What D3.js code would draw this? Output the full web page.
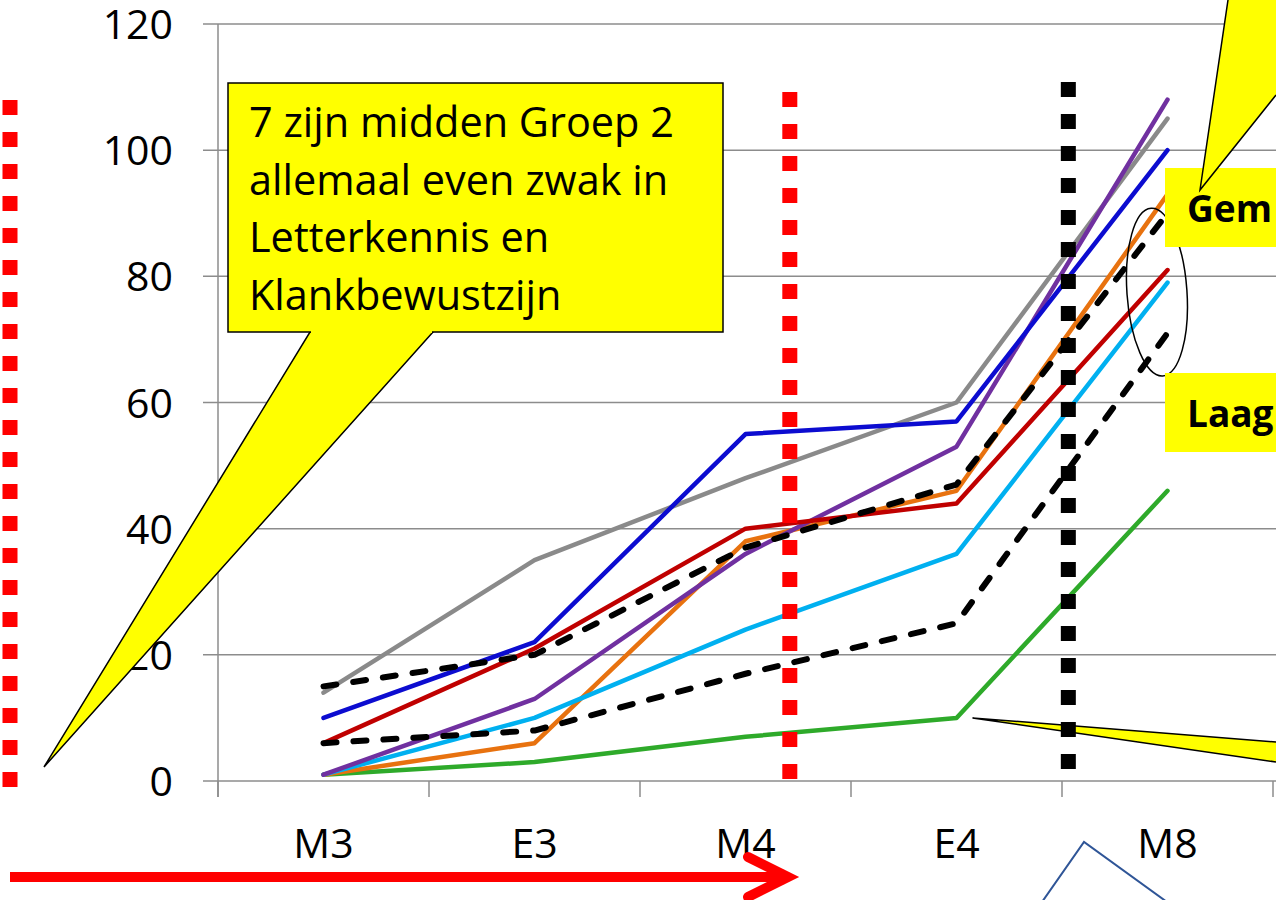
<!DOCTYPE html>
<html>
<head>
<meta charset="utf-8">
<script src="https://cdn.jsdelivr.net/npm/d3@7"></script>
<style>
  body { margin: 0; background: #fff; }
  svg { display: block; font-family: "Open Sans", "Liberation Sans", sans-serif; }
</style>
</head>
<body>
<svg id="chart"></svg>
<script>
// data
var categories = ["M3", "E3", "M4", "E4", "M8"];
var yTicks = [0, 20, 40, 60, 80, 100, 120];

var grijs      = [14, 35, 48, 60, 105];
var groen      = [1, 3, 7, 10, 46];
var oranje     = [1, 6, 38, 46, 93];
var lichtblauw = [1, 10, 24, 36, 79];
var paars      = [1, 13, 36, 53, 108];
var rood       = [6, 21, 40, 44, 81];
var blauw      = [10, 22, 55, 57, 100];
var gemiddeld  = [15, 20, 37, 47, 90];
var laag       = [6, 8, 17, 25, 71];

var calloutLines = ["7 zijn midden Groep 2", "allemaal even zwak in", "Letterkennis en", "Klankbewustzijn"];

var series = [
  {values: grijs, color: "#8a8a8a"},
  {values: groen, color: "#2eaa2a"},
  {values: oranje, color: "#e8720f"},
  {values: lichtblauw, color: "#00b0f0"},
  {values: paars, color: "#7030a0"},
  {values: rood, color: "#c00000"},
  {values: blauw, color: "#0c0cd0"},
  {values: gemiddeld, color: "#000", dash: true},
  {values: laag, color: "#000", dash: true}
];

var width = 1276, height = 900;
var svg = d3.select("#chart").attr("width", width).attr("height", height);

var x = d3.scaleBand().domain(categories).range([218, 1273]).padding(0);
// category index -> pixel, for annotations placed between categories
var xi = d3.scaleLinear().domain([-0.5, 4.5]).range([218, 1273]);
var y = d3.scaleLinear().domain([0, 120]).range([781, 24]);

// gridlines
svg.selectAll(".grid")
  .data(yTicks)
  .enter()
  .append("line")
  .attr("x1", 203)
  .attr("x2", width)
  .attr("y1", function(d){ return y(d); })
  .attr("y2", function(d){ return y(d); })
  .attr("stroke", "#8c8c8c")
  .attr("stroke-width", 1.5);

// y axis line
svg.append("line")
  .attr("x1", 218).attr("x2", 218)
  .attr("y1", y(120)).attr("y2", y(0) + 16)
  .attr("stroke", "#8c8c8c")
  .attr("stroke-width", 1.5);

// category ticks
var bounds = categories.map(function(c){ return x(c); }).concat([x(categories[4]) + x.bandwidth()]);
svg.selectAll(".xtick")
  .data(bounds)
  .enter()
  .append("line")
  .attr("x1", function(d){ return d; })
  .attr("x2", function(d){ return d; })
  .attr("y1", y(0))
  .attr("y2", y(0) + 16)
  .attr("stroke", "#8c8c8c")
  .attr("stroke-width", 1.5);

// y labels
svg.selectAll(".ylab")
  .data(yTicks)
  .enter()
  .append("text")
  .text(function(d){ return d; })
  .attr("x", 173)
  .attr("y", function(d){ return y(d) + 15; })
  .attr("text-anchor", "end")
  .attr("font-size", "41px")
  .attr("fill", "#000");

// x labels
svg.selectAll(".xlab")
  .data(categories)
  .enter()
  .append("text")
  .text(function(d){ return d; })
  .attr("x", function(d){ return x(d) + x.bandwidth() / 2; })
  .attr("y", 858)
  .attr("text-anchor", "middle")
  .attr("font-size", "41px")
  .attr("fill", "#000");

// lines
var line = d3.line()
  .x(function(d, i){ return x(categories[i]) + x.bandwidth() / 2; })
  .y(function(d){ return y(d); });

svg.selectAll(".serie")
  .data(series)
  .enter()
  .append("path")
  .attr("d", function(d){ return line(d.values); })
  .attr("fill", "none")
  .attr("stroke", function(d){ return d.color; })
  .attr("stroke-width", function(d){ return d.dash ? 6 : 4.5; })
  .attr("stroke-dasharray", function(d){ return d.dash ? "13,17" : null; })
  .attr("stroke-linecap", "round")
  .attr("stroke-linejoin", "round");

// lower right callout (points at green E4)
var tipX = xi(3) + 16, tipY = y(10);
svg.append("polygon")
  .attr("points", [[tipX, tipY], [width, 742], [width, 762]].join(" "))
  .attr("fill", "#ffff00");
svg.append("polyline")
  .attr("points", [[width, 742], [tipX, tipY], [width, 762]].join(" "))
  .attr("fill", "none")
  .attr("stroke", "#000")
  .attr("stroke-width", 1.5);

// dotted vertical markers
function dotted(xpos, y1, y2, color) {
  svg.append("line")
    .attr("x1", xpos).attr("x2", xpos)
    .attr("y1", y1).attr("y2", y2)
    .attr("stroke", color)
    .attr("stroke-width", 15)
    .attr("stroke-dasharray", "15,17");
}
dotted(10, 100, 787, "#ff0000");
dotted(xi(2.21), 92, 780, "#ff0000");
dotted(xi(3.53), 82, 770, "#000");

// ellipse around the M8 ends
svg.append("ellipse")
  .attr("cx", xi(3.95)).attr("cy", y(77.5))
  .attr("rx", 30).attr("ry", 84)
  .attr("transform", "rotate(-4," + xi(3.95) + "," + y(77.5) + ")")
  .attr("fill", "none")
  .attr("stroke", "#000")
  .attr("stroke-width", 1.5);

// Gem / Laag labels
[["Gem", 168, 222], ["Laag", 373, 427]].forEach(function(b){
  svg.append("rect")
    .attr("x", 1165).attr("y", b[1])
    .attr("width", 120).attr("height", 79)
    .attr("fill", "#ffff00");
  svg.append("text")
    .text(b[0])
    .attr("x", 1187).attr("y", b[2])
    .attr("font-size", "37px")
    .attr("font-weight", "bold")
    .attr("fill", "#000");
});

// Gem callout pointer from top right, drawn over the Gem box
svg.append("polygon")
  .attr("points", [[1200, 190], [1228, 0], [width, 0], [width, 95]].join(" "))
  .attr("fill", "#ffff00");
svg.append("polyline")
  .attr("points", [[1228, 0], [1200, 190], [width, 95]].join(" "))
  .attr("fill", "none")
  .attr("stroke", "#000")
  .attr("stroke-width", 1.5);

// big callout
svg.append("polygon")
  .attr("points", [[44, 767], [310, 332], [433, 332]].join(" "))
  .attr("fill", "#ffff00")
  .attr("stroke", "#000")
  .attr("stroke-width", 1.5);
svg.append("rect")
  .attr("x", 228).attr("y", 83)
  .attr("width", 495).attr("height", 249)
  .attr("fill", "#ffff00")
  .attr("stroke", "#000")
  .attr("stroke-width", 1.5);
svg.append("line")
  .attr("x1", 311).attr("x2", 432)
  .attr("y1", 332).attr("y2", 332)
  .attr("stroke", "#ffff00")
  .attr("stroke-width", 2);

var ct = svg.selectAll(".callout")
  .data(calloutLines)
  .enter()
  .append("text")
  .text(function(d){ return d; })
  .attr("x", 249)
  .attr("y", function(d, i){ return 137 + i * 57.7; })
  .attr("font-size", "36px")
  .attr("fill", "#000");
var w0 = ct.node().getComputedTextLength();
ct.attr("font-size", (36 * 425 / w0) + "px");

// red arrow along the bottom
svg.append("line")
  .attr("x1", 10).attr("x2", 786)
  .attr("y1", 877).attr("y2", 877)
  .attr("stroke", "#ff0000")
  .attr("stroke-width", 10);
svg.append("polyline")
  .attr("points", [[748, 857], [788, 877], [748, 897]].join(" "))
  .attr("fill", "none")
  .attr("stroke", "#ff0000")
  .attr("stroke-width", 10)
  .attr("stroke-linecap", "round");

// blue shape peeking in at the bottom
svg.append("polyline")
  .attr("points", [[1042, 902], [1084, 842], [1167, 902]].join(" "))
  .attr("fill", "none")
  .attr("stroke", "#2f5597")
  .attr("stroke-width", 2);
</script>
</body>
</html>
